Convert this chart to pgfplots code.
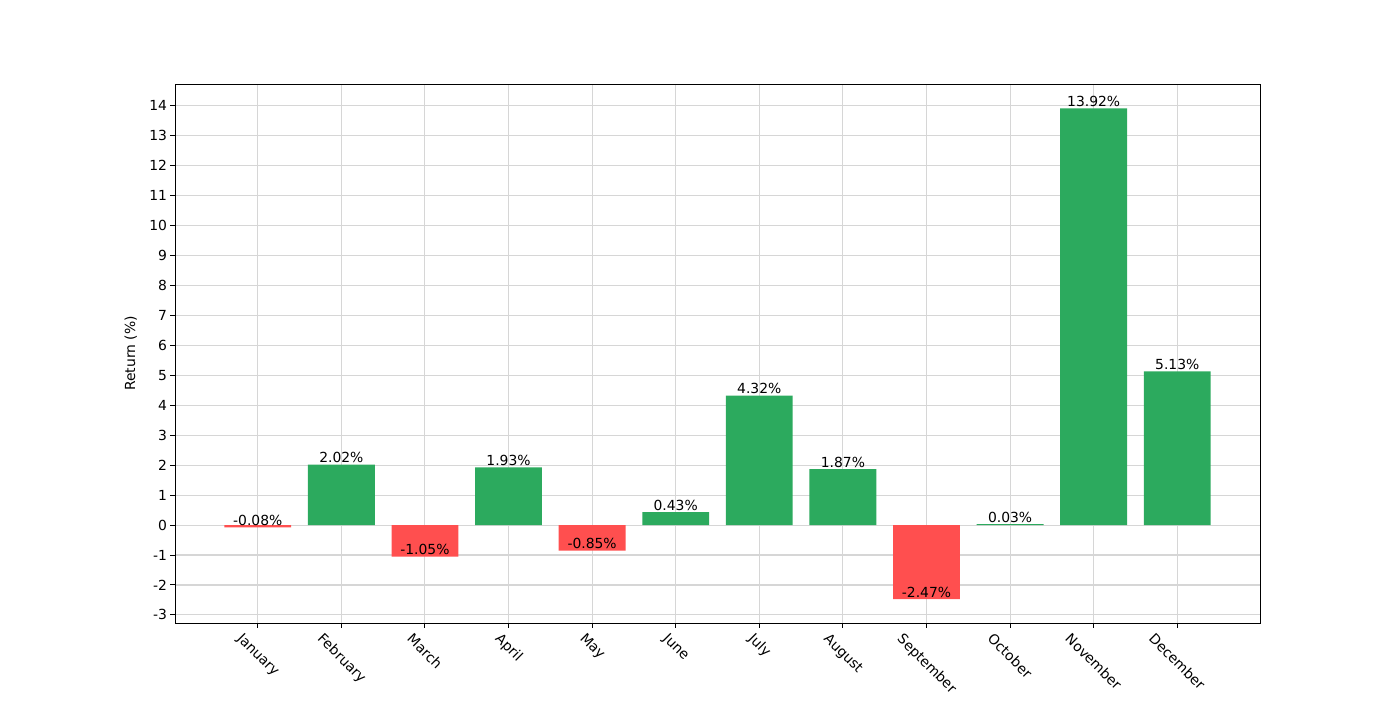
\documentclass[border=0pt]{standalone}
\usepackage{fontspec}
\setmainfont{DejaVu Sans}
\usepackage{graphicx}
\usepackage{pgfplots}
\pgfplotsset{compat=1.18}
\definecolor{posgreen}{HTML}{2CAA5E}
\definecolor{negred}{HTML}{FF4F4F}
\definecolor{gridgray}{HTML}{D6D6D6}
\begin{document}
\begin{tikzpicture}
\begin{axis}[
  scale only axis,
  width=781.2pt, height=388.08pt,
  xmin=-0.99, xmax=11.99,
  ymin=-3.27, ymax=14.73,
  ytick={-3,-2,...,14},
  xtick={0,1,...,11},
  xticklabels={\rotatebox{-45}{January},\rotatebox{-45}{February},\rotatebox{-45}{March},\rotatebox{-45}{April},\rotatebox{-45}{May},\rotatebox{-45}{June},\rotatebox{-45}{July},\rotatebox{-45}{August},\rotatebox{-45}{September},\rotatebox{-45}{October},\rotatebox{-45}{November},\rotatebox{-45}{December}},
  xticklabel style={anchor=north, inner sep=2pt, yshift=-1pt},
  yticklabel style={inner sep=2pt},
  /pgf/number format/assume math mode=true,
  tick label style={font=\fontsize{10}{12}\selectfont},
  ylabel={Return (\%)},
  ylabel shift=3.5pt,
  ylabel style={font=\fontsize{10}{12}\selectfont},
  grid=major,
  major grid style={gridgray, line width=0.8pt},
  axis line style={black, line width=0.7pt},
  tick style={black, line width=0.7pt},
  tick align=outside,
  major tick length=3.5pt,
  xtick pos=bottom, ytick pos=left,
  axis on top=false,
  set layers,
  clip=false,
]
\addplot[ybar, bar width=0.8, bar shift=0pt, fill=posgreen, draw=none, on layer=main] coordinates {
  (1,2.02) (3,1.93) (5,0.43) (6,4.32) (7,1.87) (9,0.03) (10,13.92) (11,5.13)
};
\addplot[ybar, bar width=0.8, bar shift=0pt, fill=negred, draw=none, on layer=main] coordinates {
  (0,-0.08) (2,-1.05) (4,-0.85) (8,-2.47)
};
\addplot[draw=none, mark=none, nodes near coords, point meta=explicit symbolic,
  every node near coord/.append style={anchor=south, inner sep=1pt, font=\fontsize{10}{12}\selectfont, black}]
  coordinates {
  (0,-0.08) [-0.08\%]
  (1,2.02) [2.02\%]
  (2,-1.05) [-1.05\%]
  (3,1.93) [1.93\%]
  (4,-0.85) [-0.85\%]
  (5,0.43) [0.43\%]
  (6,4.32) [4.32\%]
  (7,1.87) [1.87\%]
  (8,-2.47) [-2.47\%]
  (9,0.03) [0.03\%]
  (10,13.92) [13.92\%]
  (11,5.13) [5.13\%]
};
\end{axis}
\path ([shift={(-126pt,-55.44pt)}]current axis.south west) rectangle ([shift={(100.8pt,60.48pt)}]current axis.north east);
\end{tikzpicture}
\end{document}
